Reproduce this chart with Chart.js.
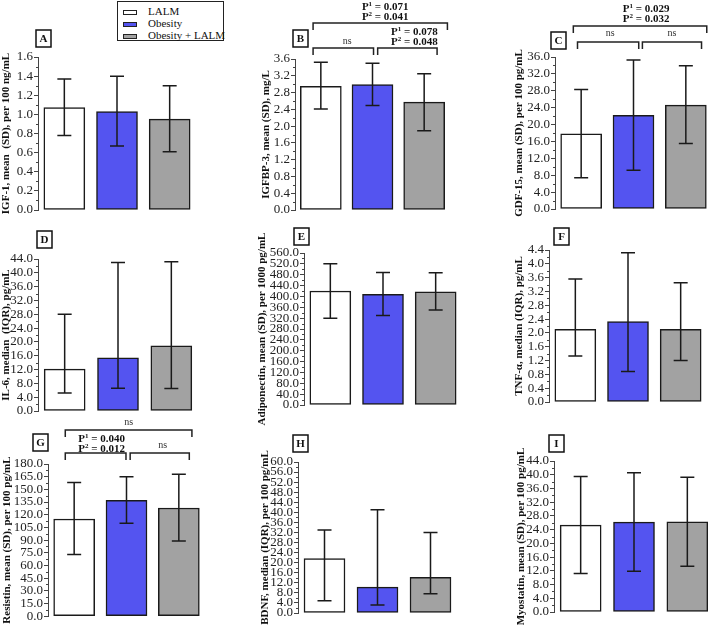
<!DOCTYPE html>
<html>
<head>
<meta charset="utf-8">
<script src="https://cdn.jsdelivr.net/npm/chart.js@4.4.1/dist/chart.umd.min.js"></script>
<style>
  html, body { margin: 0; padding: 0; background: #fff; width: 708px; height: 625px; overflow: hidden; }
  canvas { position: absolute; }
  #legend { position: absolute; left: 117px; top: 1px; width: 105px; height: 38px; border: 1.5px solid #222;
            font: 11px 'Liberation Serif', serif; color: #111; }
  #legend div { position: absolute; left: 5px; height: 12px; line-height: 12px; white-space: nowrap; }
  #legend span { display: inline-block; width: 12px; height: 3px; border: 1px solid #222; margin-right: 11px; vertical-align: middle; }
</style>
</head>
<body>
<div id="legend"></div>
<script>
// groups
var groups = ['LALM', 'Obesity', 'Obesity + LALM'];
var groupColors = ['#ffffff', '#5454f0', '#a2a2a2'];

// A - IGF-1
var igf1Mean = [1.07, 1.03, 0.95];
var igf1Low  = [0.78, 0.67, 0.61];
var igf1High = [1.37, 1.40, 1.30];
var igf1Axis = [1.6, 0.2];
// B - IGFBP-3
var igfbp3Mean = [2.95, 2.99, 2.57];
var igfbp3Low  = [2.41, 2.49, 1.89];
var igfbp3High = [3.52, 3.50, 3.25];
var igfbp3Axis = [3.6, 0.4];
// C - GDF-15
var gdf15Mean = [17.8, 22.2, 24.6];
var gdf15Low  = [7.4, 9.2, 15.5];
var gdf15High = [28.3, 35.3, 33.9];
var gdf15Axis = [36, 4];
// D - IL-6
var il6Median = [12.1, 15.4, 18.9];
var il6Low    = [5.2, 6.6, 6.5];
var il6High   = [28.0, 43.0, 43.2];
var il6Axis   = [44, 4];
// E - Adiponectin
var adipoMean = [420, 408, 417];
var adipoLow  = [320, 330, 350];
var adipoHigh = [520, 488, 487];
var adipoAxis = [560, 40];
// F - TNF-a
var tnfMedian = [2.1, 2.33, 2.1];
var tnfLow    = [1.33, 0.88, 1.2];
var tnfHigh   = [3.56, 4.32, 3.45];
var tnfAxis   = [4.4, 0.4];
// G - Resistin
var resistinMean = [115, 137, 128];
var resistinLow  = [73, 110, 89];
var resistinHigh = [158, 165, 168];
var resistinAxis = [180, 15];
// H - BDNF
var bdnfMedian = [21.6, 10.3, 14.2];
var bdnfLow    = [4.9, 3.2, 7.6];
var bdnfHigh   = [33.0, 41.0, 32.0];
var bdnfAxis   = [60, 4];
// I - Myostatin
var myoMean = [25.3, 26.2, 26.3];
var myoLow  = [11.2, 11.9, 13.3];
var myoHigh = [39.5, 40.6, 39.3];
var myoAxis = [44, 4];

// significance labels
var pB = [['0.071', '0.041'], ['0.078', '0.048']];
var pC = [['0.029', '0.032']];
var pG = [['0.040', '0.012']];

// legend
var legendEl = document.getElementById('legend');
groups.forEach(function (g, i) {
  var row = document.createElement('div');
  row.style.top = (3 + i * 12) + 'px';
  row.innerHTML = '<span style="background:' + groupColors[i] + '"></span>' + g;
  legendEl.appendChild(row);
});

// panel layout (page pixels): canvas box + chart area
var panels = [
  { letter: 'A', title: 'IGF-1, mean  (SD), per 100 ng/mL', mean: igf1Mean, lo: igf1Low, hi: igf1High, axis: igf1Axis,
    x0: 0, y0: 0, h: 222, area: [38, 57, 196, 210], lb: [-2, -27] },
  { letter: 'B', title: 'IGFBP-3, mean (SD), mg/L', mean: igfbp3Mean, lo: igfbp3Low, hi: igfbp3High, axis: igfbp3Axis,
    x0: 260, y0: 0, h: 222, area: [295, 59, 450, 210], lb: [-2, -29],
    brackets: [
      { a: -0.15, b: 2.45, y: -36, p: pB[0], dx: 5, ty: -16 },
      { a: -0.15, b: 1.02, y: -11, ns: true, dx: 4, ty: -7 },
      { a: 1.10, b: 2.25, y: -11, p: pB[1], dx: 7, ty: -16 }
    ] },
  { letter: 'C', title: 'GDF-15, mean (SD), per 100 pg/mL', mean: gdf15Mean, lo: gdf15Low, hi: gdf15High, axis: gdf15Axis,
    x0: 513, y0: 0, h: 222, area: [555, 57, 712, 209], lb: [-4, -25],
    brackets: [
      { a: -0.15, b: 2.4, y: -31, p: pC[0], dx: 6, ty: -17 },
      { a: -0.07, b: 1.1, y: -15, ns: true, dx: 2, ty: -9 },
      { a: 1.17, b: 2.3, y: -15, ns: true, dx: 0, ty: -9 }
    ] },
  { letter: 'D', title: 'IL-6, median  (IQR), pg/mL', mean: il6Median, lo: il6Low, hi: il6High, axis: il6Axis,
    x0: 0, y0: 214, h: 216, area: [38, 259, 198, 411], lb: [-1, -28] },
  { letter: 'E', title: 'Adiponectin, mean (SD), per 1000 pg/mL', mean: adipoMean, lo: adipoLow, hi: adipoHigh, axis: adipoAxis,
    x0: 256, y0: 214, h: 216, area: [304, 253, 462, 405], lb: [-10, -25] },
  { letter: 'F', title: 'TNF-\u03b1, median (IQR), pg/mL', mean: tnfMedian, lo: tnfLow, hi: tnfHigh, axis: tnfAxis,
    x0: 513, y0: 214, h: 216, area: [549, 250, 707, 402], lb: [5, -22] },
  { letter: 'G', title: 'Resistin, mean (SD), per 100 pg/mL', mean: resistinMean, lo: resistinLow, hi: resistinHigh, axis: resistinAxis,
    x0: 1, y0: 414, h: 211, area: [48, 464, 205, 617], lb: [-15, -30],
    brackets: [
      { a: -0.17, b: 2.25, y: -34, ns: true, dx: 0, ty: -8 },
      { a: -0.17, b: 0.99, y: -11, p: pG[0], dx: 6, ty: -14 },
      { a: 1.07, b: 2.2, y: -11, ns: true, dx: 3, ty: -8 }
    ] },
  { letter: 'H', title: 'BDNF, median (IQR), per 100 pg/mL', mean: bdnfMedian, lo: bdnfLow, hi: bdnfHigh, axis: bdnfAxis,
    x0: 259, y0: 414, h: 211, area: [298, 462, 457, 613], lb: [-5, -27] },
  { letter: 'I', title: 'Myostatin, mean (SD), per 100 pg/mL', mean: myoMean, lo: myoLow, hi: myoHigh, axis: myoAxis,
    x0: 515, y0: 414, h: 211, area: [554, 461, 714, 612], lb: [-5, -26] }
];

function drawP(ctx, cx, cy, sup, val) {
  var main = 'bold 11px "Liberation Serif"';
  var small = 'bold 7px "Liberation Serif"';
  ctx.font = main;
  var wP = ctx.measureText('P').width;
  var rest = ' = ' + val;
  var wR = ctx.measureText(rest).width;
  ctx.font = small;
  var wS = ctx.measureText(sup).width;
  var x = cx - (wP + wS + wR) / 2;
  ctx.textAlign = 'left';
  ctx.textBaseline = 'middle';
  ctx.font = main; ctx.fillText('P', x, cy); x += wP;
  ctx.font = small; ctx.fillText(sup, x, cy - 3); x += wS;
  ctx.font = main; ctx.fillText(rest, x, cy);
}

var extras = {
  id: 'extras',
  afterDraw: function (chart, args, opts) {
    var ctx = chart.ctx;
    var area = chart.chartArea;
    var xs = chart.scales.x, ys = chart.scales.y;
    var meta = chart.getDatasetMeta(0);
    ctx.save();
    // minor ticks
    ctx.strokeStyle = '#444';
    ctx.lineWidth = 1;
    var step = opts.step;
    for (var v = step / 2; v < ys.max; v += step) {
      var py = Math.round(ys.getPixelForValue(v)) + 0.5;
      ctx.beginPath(); ctx.moveTo(area.left - 2, py); ctx.lineTo(area.left, py); ctx.stroke();
    }
    // error bars
    ctx.strokeStyle = '#1a1a1a';
    ctx.lineWidth = 1.5;
    meta.data.forEach(function (bar, i) {
      var x = bar.x;
      var yl = ys.getPixelForValue(opts.lo[i]);
      var yh = ys.getPixelForValue(opts.hi[i]);
      ctx.beginPath();
      ctx.moveTo(x, yl); ctx.lineTo(x, yh);
      ctx.moveTo(x - 7, yl); ctx.lineTo(x + 7, yl);
      ctx.moveTo(x - 7, yh); ctx.lineTo(x + 7, yh);
      ctx.stroke();
    });
    // panel letter
    var bx = area.left + opts.lb[0], by = area.top + opts.lb[1];
    ctx.lineWidth = 1.5;
    ctx.strokeStyle = '#111';
    ctx.strokeRect(bx, by, 15, 17);
    ctx.fillStyle = '#111';
    ctx.font = 'bold 11px "Liberation Serif"';
    ctx.textAlign = 'center';
    ctx.textBaseline = 'middle';
    ctx.fillText(opts.letter, bx + 7.5, by + 9);
    // brackets
    var c0 = xs.getPixelForValue(0);
    var sp = xs.getPixelForValue(1) - c0;
    (opts.brackets || []).forEach(function (b) {
      var xa = c0 + b.a * sp, xb = c0 + b.b * sp, y = area.top + b.y;
      ctx.strokeStyle = '#222';
      ctx.lineWidth = 1.5;
      ctx.beginPath();
      ctx.moveTo(xa, y + 7); ctx.lineTo(xa, y); ctx.lineTo(xb, y); ctx.lineTo(xb, y + 7);
      ctx.stroke();
      var mx = (xa + xb) / 2 + b.dx;
      ctx.fillStyle = '#111';
      if (b.ns) {
        ctx.font = '10px "Liberation Serif"';
        ctx.fillStyle = '#333';
        ctx.textAlign = 'center';
        ctx.textBaseline = 'middle';
        ctx.fillText('ns', mx, y + b.ty);
      } else {
        drawP(ctx, mx, y + b.ty, '1', b.p[0]);
        drawP(ctx, mx, y + b.ty + 10, '2', b.p[1]);
      }
    });
    ctx.restore();
  }
};

panels.forEach(function (p) {
  var w = p.area[2] - p.x0 + 4;
  var cv = document.createElement('canvas');
  cv.width = w; cv.height = p.h;
  cv.style.left = p.x0 + 'px';
  cv.style.top = p.y0 + 'px';
  cv.style.width = w + 'px';
  cv.style.height = p.h + 'px';
  document.body.appendChild(cv);

  new Chart(cv, {
    type: 'bar',
    data: {
      labels: groups,
      datasets: [{
        data: p.mean,
        backgroundColor: groupColors,
        borderColor: '#1a1a1a',
        borderWidth: 1.5,
        borderSkipped: false,
        barThickness: 41
      }]
    },
    options: {
      responsive: false,
      animation: false,
      devicePixelRatio: 1,
      layout: { padding: { left: 0, top: p.area[1] - p.y0, right: 4, bottom: p.y0 + p.h - p.area[3] } },
      plugins: {
        legend: { display: false },
        tooltip: { enabled: false },
        extras: { lo: p.lo, hi: p.hi, step: p.axis[1], letter: p.letter, lb: p.lb, brackets: p.brackets }
      },
      scales: {
        x: { display: false },
        y: {
          min: 0, max: p.axis[0],
          afterFit: function (s) { s.width = p.area[0] - p.x0; },
          border: { color: '#444', width: 1 },
          grid: { drawOnChartArea: false, drawTicks: true, tickLength: 4, color: '#444' },
          ticks: {
            stepSize: p.axis[1], autoSkip: false, padding: 1, color: '#222',
            font: { family: 'Liberation Serif', size: 13 },
            callback: function (v) { return Number(v).toFixed(1); }
          },
          title: {
            display: true, text: p.title, color: '#111', padding: 0,
            font: { family: 'Liberation Serif', size: 11, weight: 'bold' }
          }
        }
      }
    },
    plugins: [extras]
  });
});
</script>
</body>
</html>
